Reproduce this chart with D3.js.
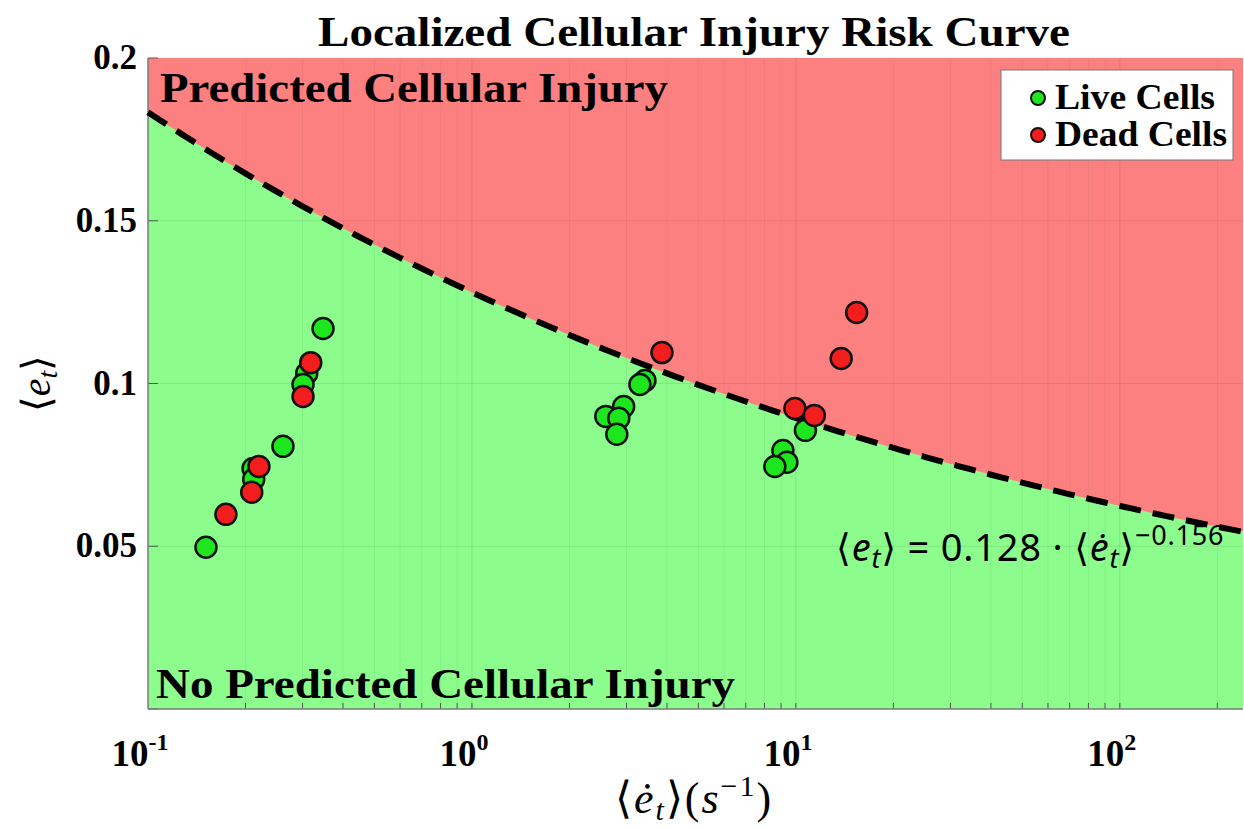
<!DOCTYPE html>
<html>
<head>
<meta charset="utf-8">
<script src="https://cdn.jsdelivr.net/npm/d3@7"></script>
<style>
    body { margin: 0; background: #fff; }
    svg { display: block; }
</style>
</head>
<body>
<div id="chart"></div>
<script>
// Live cells: strain rate (1/s) and strain
const liveRate   = [0.151, 0.261, 0.347, 0.309, 0.301, 0.211, 0.212, 3.42, 3.30, 2.94, 2.59, 2.84, 2.80, 10.7, 9.12, 9.38, 8.61];
const liveStrain = [0.0497, 0.0807, 0.1169, 0.1031, 0.0997, 0.0739, 0.0706, 0.1009, 0.0997, 0.0929, 0.0899, 0.0893, 0.0844, 0.0856, 0.0794, 0.0758, 0.0745];

// Dead cells
const deadRate   = [0.318, 0.301, 0.220, 0.209, 0.174, 3.86, 15.4, 13.8, 9.93, 11.4];
const deadStrain = [0.1064, 0.0960, 0.0745, 0.0666, 0.0598, 0.1095, 0.1218, 0.1077, 0.0923, 0.0902];

// Fitted risk curve  <e_t> = a * <de_t>^b
const fitCoef = 0.128;
const fitExp = -0.156;

const xTicks = [0.1, 1, 10, 100];
const xTickPowers = ["-1", "0", "1", "2"];
const yTicks = [0.05, 0.1, 0.15, 0.2];
const yTickLabels = ["0.05", "0.1", "0.15", "0.2"];

const SERIF = "'Liberation Serif', 'Times New Roman', serif";

const W = 1244, H = 828;
const margin = { top: 58, right: 1, bottom: 119, left: 148 };
const width = W - margin.left - margin.right;
const height = H - margin.top - margin.bottom;

const svg = d3.select("#chart").append("svg")
    .attr("width", W)
    .attr("height", H);

const g = svg.append("g")
    .attr("transform", `translate(${margin.left},${margin.top})`);

const x = d3.scaleLog().domain([0.1, 240]).range([0, width]);
const y = d3.scaleLinear().domain([0, 0.2]).range([height, 0]);

// Curve samples in log space across the x domain
const curveX = d3.range(0, 101).map(i => 0.1 * Math.pow(2400, i / 100));
const curve = curveX.map(v => ({ x: v, y: fitCoef * Math.pow(v, fitExp) }));

// Green background (safe region) then red area above the curve
g.append("rect")
    .attr("width", width)
    .attr("height", height)
    .attr("fill", "#8cfc8c");

const area = d3.area()
    .x(d => x(d.x))
    .y0(0)
    .y1(d => y(d.y));

g.append("path")
    .datum(curve)
    .attr("d", area)
    .attr("fill", "#fd8080");

// Faint grid lines
const minorX = [];
[0.1, 1, 10, 100].forEach(dec => {
    for (let k = 1; k <= 9; k++) {
        const v = dec * k;
        if (v > 0.1 && v < 240) minorX.push(v);
    }
});

g.append("g")
    .selectAll("line")
    .data(minorX)
    .join("line")
    .attr("x1", d => x(d))
    .attr("x2", d => x(d))
    .attr("y1", 0)
    .attr("y2", height)
    .attr("stroke", "#000")
    .attr("stroke-opacity", d => (Math.abs(Math.log10(d) - Math.round(Math.log10(d))) < 1e-6 ? 0.1 : 0.05))
    .attr("stroke-width", 1);

g.append("g")
    .selectAll("line")
    .data(yTicks.slice(0, 3))
    .join("line")
    .attr("x1", 0)
    .attr("x2", width)
    .attr("y1", d => y(d))
    .attr("y2", d => y(d))
    .attr("stroke", "#000")
    .attr("stroke-opacity", 0.08);

// Small inward ticks
g.append("g")
    .selectAll("line")
    .data(minorX)
    .join("line")
    .attr("x1", d => x(d))
    .attr("x2", d => x(d))
    .attr("y1", height)
    .attr("y2", height - 6)
    .attr("stroke", "#555")
    .attr("stroke-width", 1);

g.append("g")
    .selectAll("line")
    .data(yTicks.concat([0]))
    .join("line")
    .attr("x1", 0)
    .attr("x2", 10)
    .attr("y1", d => y(d))
    .attr("y2", d => y(d))
    .attr("stroke", "#555")
    .attr("stroke-width", 1);

// Axis frame
g.append("line")
    .attr("x1", 0).attr("x2", 0).attr("y1", 0).attr("y2", height)
    .attr("stroke", "#7a7a7a").attr("stroke-width", 1.5);
g.append("line")
    .attr("x1", 0).attr("x2", width).attr("y1", height).attr("y2", height)
    .attr("stroke", "#7a7a7a").attr("stroke-width", 1.5);

// Dashed fit curve
g.append("path")
    .datum(curve)
    .attr("d", d3.line().x(d => x(d.x)).y(d => y(d.y)))
    .attr("fill", "none")
    .attr("stroke", "#000")
    .attr("stroke-width", 6)
    .attr("stroke-dasharray", "22,12");

// Region labels
g.append("text")
    .attr("x", 12)
    .attr("y", 44)
    .attr("font-family", SERIF)
    .attr("font-weight", "bold")
    .attr("font-size", 42)
    .attr("textLength", 508)
    .attr("lengthAdjust", "spacingAndGlyphs")
    .text("Predicted Cellular Injury");

g.append("text")
    .attr("x", 8)
    .attr("y", 640)
    .attr("font-family", SERIF)
    .attr("font-weight", "bold")
    .attr("font-size", 42)
    .attr("textLength", 579)
    .attr("lengthAdjust", "spacingAndGlyphs")
    .text("No Predicted Cellular Injury");

// Fit equation
const eq = g.append("text")
    .attr("x", 688)
    .attr("y", 503)
    .attr("font-family", "'Noto Sans', 'DejaVu Sans', sans-serif")
    .attr("font-size", 38)
    .attr("letter-spacing", 0.8);
eq.append("tspan").text("\u27E8");
eq.append("tspan").attr("font-style", "italic").text("e");
eq.append("tspan").attr("font-style", "italic").attr("font-size", 27).attr("dy", 7).text("t");
eq.append("tspan").attr("dy", -7).text("\u27E9 = " + fitCoef + " \u00B7 \u27E8");
eq.append("tspan").attr("font-style", "italic").text("\u0117");
eq.append("tspan").attr("font-style", "italic").attr("font-size", 27).attr("dy", 7).text("t");
eq.append("tspan").attr("dy", -7).text("\u27E9");
eq.append("tspan").attr("font-size", 27).attr("dy", -16).text("\u2212" + Math.abs(fitExp));

// Scatter points
const pointStyle = sel => sel
    .attr("r", 10.5)
    .attr("stroke", "#111")
    .attr("stroke-width", 2.5);

g.append("g")
    .selectAll("circle")
    .data(liveRate.map((v, i) => [v, liveStrain[i]]))
    .join("circle")
    .attr("cx", d => x(d[0]))
    .attr("cy", d => y(d[1]))
    .attr("fill", "#1ee61e")
    .call(pointStyle);

g.append("g")
    .selectAll("circle")
    .data(deadRate.map((v, i) => [v, deadStrain[i]]))
    .join("circle")
    .attr("cx", d => x(d[0]))
    .attr("cy", d => y(d[1]))
    .attr("fill", "#f21e1e")
    .call(pointStyle);

// Legend
const legend = g.append("g").attr("transform", `translate(${1001 - margin.left},${70 - margin.top})`);
legend.append("rect")
    .attr("width", 232)
    .attr("height", 90)
    .attr("fill", "#fff")
    .attr("stroke", "#777")
    .attr("stroke-width", 1);
const legendItems = [["Live Cells", "#1ee61e", 160], ["Dead Cells", "#f21e1e", 172]];
legendItems.forEach(([label, color, len], i) => {
    legend.append("circle")
        .attr("cx", 37)
        .attr("cy", 28 + i * 37)
        .attr("r", 7)
        .attr("fill", color)
        .attr("stroke", "#111")
        .attr("stroke-width", 2);
    legend.append("text")
        .attr("x", 54)
        .attr("y", 39 + i * 37)
        .attr("font-family", SERIF)
        .attr("font-weight", "bold")
        .attr("font-size", 35)
        .attr("textLength", len)
        .attr("lengthAdjust", "spacingAndGlyphs")
        .text(label);
});

// Y tick labels
g.append("g")
    .selectAll("text")
    .data(yTicks)
    .join("text")
    .attr("x", -11)
    .attr("y", d => y(d) + 11)
    .attr("text-anchor", "end")
    .attr("font-family", SERIF)
    .attr("font-weight", "bold")
    .attr("font-size", 35)
    .text((d, i) => yTickLabels[i]);

// X tick labels 10^n
xTicks.forEach((v, i) => {
    const t = g.append("text")
        .attr("x", x(v) - 8)
        .attr("y", height + 57)
        .attr("text-anchor", "middle")
        .attr("font-family", SERIF)
        .attr("font-weight", "bold")
        .attr("font-size", 37);
    t.append("tspan").text("10");
    t.append("tspan").attr("font-size", 24).attr("dy", -16).text(xTickPowers[i]);
});

// Title
svg.append("text")
    .attr("x", 694)
    .attr("y", 46)
    .attr("text-anchor", "middle")
    .attr("font-family", SERIF)
    .attr("font-weight", "bold")
    .attr("font-size", 42)
    .attr("textLength", 752)
    .attr("lengthAdjust", "spacingAndGlyphs")
    .text("Localized Cellular Injury Risk Curve");

// Y axis label
const yl = svg.append("text")
    .attr("transform", `translate(50,${margin.top + y(0.1)}) rotate(-90)`)
    .attr("text-anchor", "middle")
    .attr("font-family", SERIF)
    .attr("font-size", 40);
yl.append("tspan").text("\u27E8");
yl.append("tspan").attr("font-style", "italic").text("e");
yl.append("tspan").attr("font-style", "italic").attr("font-size", 28).attr("dy", 7).text("t");
yl.append("tspan").attr("dy", -7).text("\u27E9");

// X axis label
const xl = svg.append("text")
    .attr("x", 694)
    .attr("y", 813)
    .attr("text-anchor", "middle")
    .attr("font-family", SERIF)
    .attr("font-size", 44)
    .attr("letter-spacing", 2);
xl.append("tspan").text("\u27E8");
xl.append("tspan").attr("font-style", "italic").text("\u0117");
xl.append("tspan").attr("font-style", "italic").attr("font-size", 30).attr("dy", 7).text("t");
xl.append("tspan").attr("dy", -7).text("\u27E9(");
xl.append("tspan").attr("font-style", "italic").text("s");
xl.append("tspan").attr("font-size", 30).attr("dy", -17).text("\u22121");
xl.append("tspan").attr("dy", 17).text(")");
</script>
</body>
</html>
